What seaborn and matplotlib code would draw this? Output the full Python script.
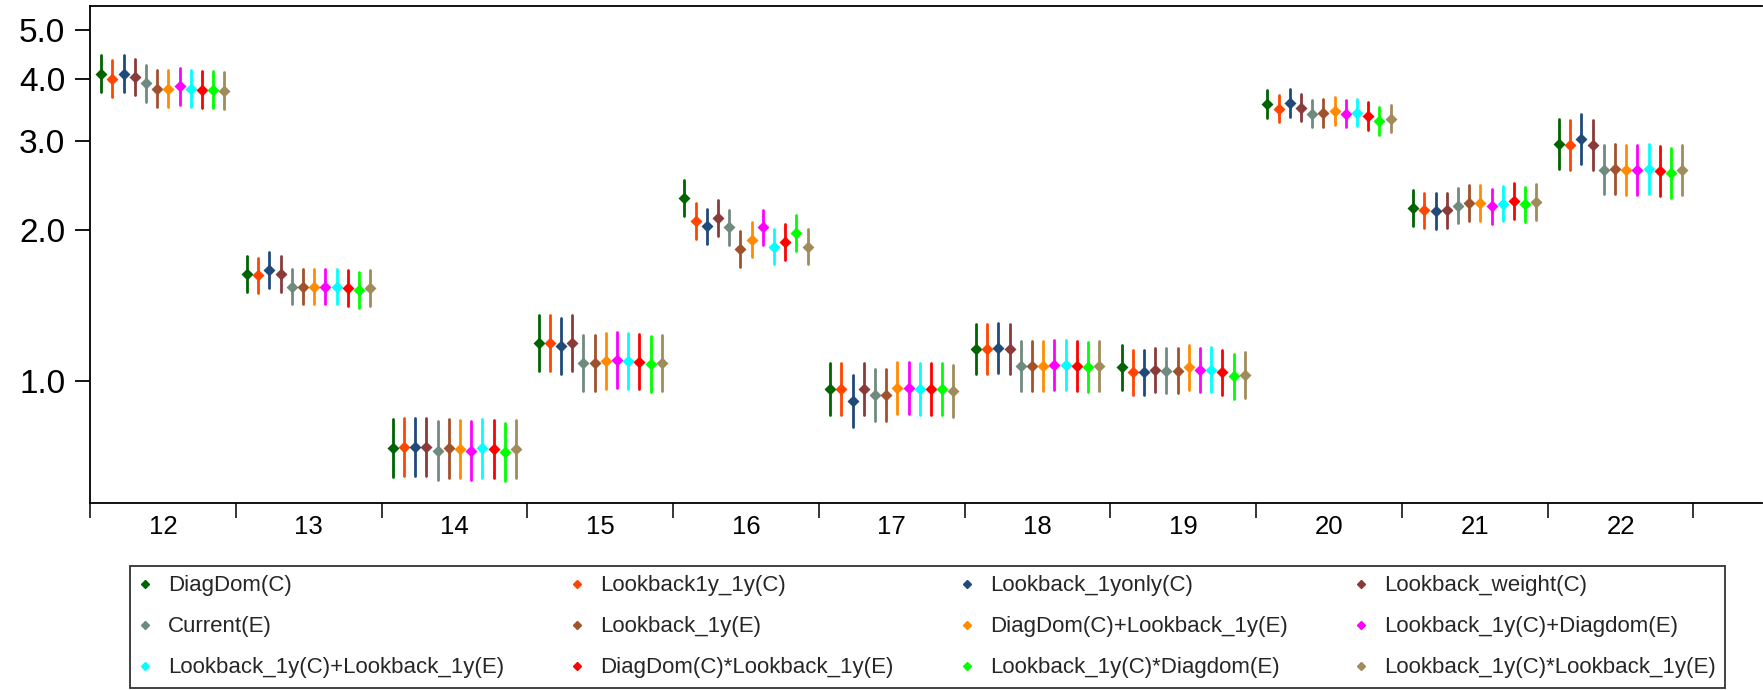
import numpy as np
import pandas as pd
import seaborn as sns
import matplotlib
matplotlib.use("Agg")
import matplotlib.pyplot as plt
from matplotlib.lines import Line2D
from matplotlib.ticker import FixedLocator, FixedFormatter, NullFormatter, NullLocator

# ---------------- data ----------------
groups = ["12", "13", "14", "15", "16", "17", "18", "19", "20", "21", "22"]

series_names = [
    "DiagDom(C)", "Lookback1y_1y(C)", "Lookback_1yonly(C)", "Lookback_weight(C)",
    "Current(E)", "Lookback_1y(E)", "DiagDom(C)+Lookback_1y(E)", "Lookback_1y(C)+Diagdom(E)",
    "Lookback_1y(C)+Lookback_1y(E)", "DiagDom(C)*Lookback_1y(E)", "Lookback_1y(C)*Diagdom(E)",
    "Lookback_1y(C)*Lookback_1y(E)",
]
series_colors = [
    "#006400", "#FF4500", "#1F4A7A", "#8B3A3A",
    "#6F8A7E", "#A0522D", "#FF8C00", "#FF00FF",
    "#00FFFF", "#FF0000", "#00FF00", "#A08C5B",
]

# point estimates
diagdom_c_mid        = [4.09, 1.63, 0.734, 1.190, 2.31, 0.962, 1.155, 1.063, 3.556, 2.207, 2.958]
lookback1y1y_c_mid   = [4.00, 1.62, 0.736, 1.190, 2.08, 0.962, 1.155, 1.039, 3.486, 2.184, 2.944]
lookback1yonly_c_mid = [4.09, 1.66, 0.736, 1.170, 2.03, 0.912, 1.160, 1.039, 3.577, 2.177, 3.027]
lookbackweight_c_mid = [4.03, 1.63, 0.736, 1.190, 2.11, 0.962, 1.157, 1.050, 3.502, 2.184, 2.953]
current_e_mid        = [3.91, 1.54, 0.725, 1.083, 2.02, 0.938, 1.068, 1.047, 3.406, 2.232, 2.634]
lookback1y_e_mid     = [3.82, 1.54, 0.733, 1.083, 1.83, 0.938, 1.068, 1.047, 3.416, 2.259, 2.646]
dd_plus_lb_mid       = [3.82, 1.54, 0.731, 1.096, 1.91, 0.967, 1.071, 1.063, 3.443, 2.259, 2.625]
lb_plus_dd_mid       = [3.86, 1.54, 0.725, 1.100, 2.02, 0.967, 1.076, 1.050, 3.406, 2.225, 2.625]
lb_plus_lb_mid       = [3.82, 1.54, 0.733, 1.096, 1.85, 0.961, 1.074, 1.052, 3.422, 2.252, 2.640]
dd_times_lb_mid      = [3.80, 1.53, 0.731, 1.091, 1.89, 0.961, 1.069, 1.039, 3.365, 2.280, 2.617]
lb_times_dd_mid      = [3.80, 1.515, 0.722, 1.080, 1.97, 0.961, 1.062, 1.020, 3.293, 2.245, 2.593]
lb_times_lb_mid      = [3.78, 1.53, 0.731, 1.085, 1.85, 0.955, 1.069, 1.026, 3.329, 2.268, 2.625]

# lower interval bounds
diagdom_c_lo        = [3.760, 1.502, 0.642, 1.047, 2.129, 0.854, 1.029, 0.959, 3.336, 2.034, 2.639]
lookback1y1y_c_lo   = [3.676, 1.493, 0.644, 1.047, 1.917, 0.854, 1.029, 0.937, 3.270, 2.013, 2.626]
lookback1yonly_c_lo = [3.760, 1.530, 0.644, 1.029, 1.871, 0.809, 1.034, 0.937, 3.356, 2.006, 2.700]
lookbackweight_c_lo = [3.704, 1.502, 0.644, 1.047, 1.945, 0.854, 1.031, 0.947, 3.285, 2.013, 2.634]
current_e_lo        = [3.594, 1.419, 0.634, 0.952, 1.862, 0.832, 0.952, 0.944, 3.195, 2.057, 2.350]
lookback1y_e_lo     = [3.511, 1.419, 0.641, 0.952, 1.687, 0.832, 0.952, 0.944, 3.205, 2.082, 2.360]
dd_plus_lb_lo       = [3.511, 1.419, 0.640, 0.964, 1.760, 0.858, 0.955, 0.959, 3.230, 2.082, 2.342]
lb_plus_dd_lo       = [3.548, 1.419, 0.634, 0.967, 1.862, 0.858, 0.959, 0.947, 3.195, 2.051, 2.342]
lb_plus_lb_lo       = [3.511, 1.419, 0.641, 0.964, 1.705, 0.853, 0.957, 0.949, 3.210, 2.076, 2.355]
dd_times_lb_lo      = [3.493, 1.410, 0.640, 0.960, 1.742, 0.853, 0.953, 0.937, 3.157, 2.101, 2.335]
lb_times_dd_lo      = [3.493, 1.396, 0.632, 0.950, 1.816, 0.853, 0.947, 0.920, 3.089, 2.069, 2.313]
lb_times_lb_lo      = [3.474, 1.410, 0.640, 0.954, 1.705, 0.847, 0.953, 0.925, 3.123, 2.090, 2.342]

# upper interval bounds
diagdom_c_hi        = [4.450, 1.769, 0.839, 1.353, 2.506, 1.084, 1.296, 1.179, 3.791, 2.395, 3.316]
lookback1y1y_c_hi   = [4.352, 1.758, 0.841, 1.353, 2.257, 1.084, 1.296, 1.152, 3.716, 2.370, 3.300]
lookback1yonly_c_hi = [4.450, 1.801, 0.841, 1.330, 2.203, 1.028, 1.302, 1.152, 3.813, 2.362, 3.393]
lookbackweight_c_hi = [4.385, 1.769, 0.841, 1.353, 2.289, 1.084, 1.298, 1.164, 3.733, 2.370, 3.310]
current_e_hi        = [4.254, 1.671, 0.829, 1.231, 2.192, 1.057, 1.198, 1.161, 3.631, 2.422, 2.953]
lookback1y_e_hi     = [4.156, 1.671, 0.838, 1.231, 1.986, 1.057, 1.198, 1.161, 3.641, 2.451, 2.966]
dd_plus_lb_hi       = [4.156, 1.671, 0.836, 1.246, 2.072, 1.090, 1.202, 1.179, 3.670, 2.451, 2.943]
lb_plus_dd_hi       = [4.200, 1.671, 0.829, 1.251, 2.192, 1.090, 1.207, 1.164, 3.631, 2.414, 2.943]
lb_plus_lb_hi       = [4.156, 1.671, 0.838, 1.246, 2.007, 1.083, 1.205, 1.167, 3.648, 2.443, 2.959]
dd_times_lb_hi      = [4.134, 1.660, 0.836, 1.240, 2.051, 1.083, 1.199, 1.152, 3.587, 2.474, 2.934]
lb_times_dd_hi      = [4.134, 1.644, 0.825, 1.228, 2.137, 1.083, 1.192, 1.131, 3.510, 2.436, 2.907]
lb_times_lb_hi      = [4.113, 1.660, 0.836, 1.234, 2.007, 1.076, 1.199, 1.138, 3.549, 2.461, 2.943]

y_ticks = [1.0, 2.0, 3.0, 4.0, 5.0]
y_tick_labels = ["1.0", "2.0", "3.0", "4.0", "5.0"]

mids = [diagdom_c_mid, lookback1y1y_c_mid, lookback1yonly_c_mid, lookbackweight_c_mid,
        current_e_mid, lookback1y_e_mid, dd_plus_lb_mid, lb_plus_dd_mid,
        lb_plus_lb_mid, dd_times_lb_mid, lb_times_dd_mid, lb_times_lb_mid]
los = [diagdom_c_lo, lookback1y1y_c_lo, lookback1yonly_c_lo, lookbackweight_c_lo,
       current_e_lo, lookback1y_e_lo, dd_plus_lb_lo, lb_plus_dd_lo,
       lb_plus_lb_lo, dd_times_lb_lo, lb_times_dd_lo, lb_times_lb_lo]
his = [diagdom_c_hi, lookback1y1y_c_hi, lookback1yonly_c_hi, lookbackweight_c_hi,
       current_e_hi, lookback1y_e_hi, dd_plus_lb_hi, lb_plus_dd_hi,
       lb_plus_lb_hi, dd_times_lb_hi, lb_times_dd_hi, lb_times_lb_hi]

# long-form table: lo / mid / hi per point -> median + full-range interval
rows = []
for name, m, lo, hi in zip(series_names, mids, los, his):
    for g, a, b, c in zip(groups, lo, m, hi):
        for v in (a, b, c):
            rows.append({"group": g, "series": name, "value": v})
df = pd.DataFrame(rows)

# ---------------- style ----------------
sns.set_style("ticks")
plt.rcParams["font.family"] = ["Liberation Sans", "DejaVu Sans"]

W, H = 1763, 690
fig = plt.figure(figsize=(W / 100, H / 100), dpi=100)
ax = fig.add_axes([90 / W, (H - 502.7) / H, 1672 / W, (502.7 - 6) / H])

sns.pointplot(
    data=df, x="group", y="value", hue="series",
    order=groups, hue_order=series_names, palette=series_colors,
    estimator="median", errorbar=("pi", 100),
    dodge=0.845, markers="D", linestyles="none",
    markersize=4.5, err_kws={"linewidth": 2.0},
    log_scale=True, ax=ax,
)
if ax.get_legend() is not None:
    ax.get_legend().remove()

# axes cosmetics
n = len(groups)
ax.set_xlim(-0.5, 10.97)
ax.set_ylim(0.571, 5.58)
ax.set_xlabel("")
ax.set_ylabel("")

ax.xaxis.set_major_locator(FixedLocator(np.arange(n + 1) - 0.5))
ax.xaxis.set_major_formatter(NullFormatter())
ax.xaxis.set_minor_locator(FixedLocator(np.arange(n)))
ax.xaxis.set_minor_formatter(FixedFormatter(groups))
ax.tick_params(axis="x", which="major", length=10.8, width=1.1, color="black")
ax.tick_params(axis="x", which="minor", length=0, labelsize=18.5, pad=9, labelcolor="black")

ax.yaxis.set_major_locator(FixedLocator(y_ticks))
ax.yaxis.set_major_formatter(FixedFormatter(y_tick_labels))
ax.yaxis.set_minor_locator(NullLocator())
ax.tick_params(axis="y", which="major", length=10.8, width=1.3, labelsize=24, pad=7,
               color="black", labelcolor="black")

for side in ["left", "bottom", "top"]:
    ax.spines[side].set_visible(True)
    ax.spines[side].set_color("black")
    ax.spines[side].set_linewidth(1.3)
ax.spines["right"].set_visible(False)

# legend (row-major order like the reference, matplotlib fills column-major)
handles = [Line2D([], [], marker="D", linestyle="none", color=c, markersize=4)
           for c in series_colors]
order = [0, 4, 8, 1, 5, 9, 2, 6, 10, 3, 7, 11]
leg = fig.legend(
    [handles[i] for i in order], [series_names[i] for i in order],
    ncol=4, loc="upper left",
    bbox_to_anchor=(130 / W, 1 / H, 1595 / W, (689 - 566) / H),
    mode="expand", frameon=True, fancybox=False, edgecolor="black",
    fontsize=16, handlelength=0.5, handletextpad=0.8,
    labelspacing=0.9, borderpad=0.42, borderaxespad=0, columnspacing=1.0,
)
leg.get_frame().set_linewidth(1.3)

fig.savefig("out.png", dpi=100)
